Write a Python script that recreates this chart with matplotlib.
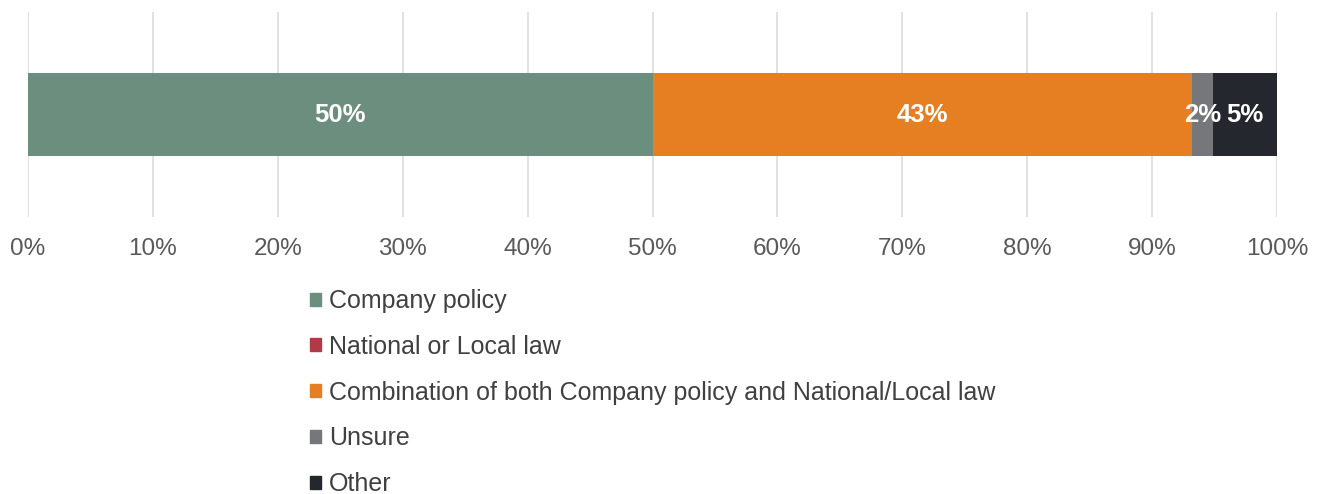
import matplotlib.pyplot as plt
from matplotlib.patches import Patch

plt.rcParams['font.family'] = ['Liberation Sans', 'DejaVu Sans']

# Data
categories = ['Company policy', 'National or Local law',
              'Combination of both Company policy and National/Local law',
              'Unsure', 'Other']
values = [50.0, 0.0, 43.2, 1.7, 5.1]
colors = ['#6b8e7f', '#b03a48', '#e67e22', '#76777b', '#25272f']
tick_vals = list(range(0, 101, 10))

fig = plt.figure(figsize=(13.25, 4.94), dpi=100)
ax = fig.add_axes([28 / 1325, 1 - 217 / 494, 1249 / 1325, 205 / 494])

left = 0
for cat, val, col in zip(categories, values, colors):
    ax.barh(0, val, left=left, height=0.405, color=col, label=cat)
    if val > 0:
        ax.text(left + val / 2, 0, f'{round(val)}%', ha='center', va='center',
                color='white', fontsize=18.5, fontweight='bold')
    left += val

ax.set_xlim(0, 100)
ax.set_ylim(-0.5, 0.5)
ax.set_yticks([])
ax.set_xticks(tick_vals)
ax.set_xticklabels([f'{t}%' for t in tick_vals])
ax.tick_params(axis='x', length=0, pad=15, labelsize=17.5, labelcolor='#595959')
ax.grid(axis='x', color='#dcdcdc', linewidth=1.2)
ax.set_axisbelow(True)
for s in ax.spines.values():
    s.set_visible(False)

handles = [Patch(color=c, label=l) for l, c in zip(categories, colors)]
fig.legend(handles=handles, loc='upper left', bbox_to_anchor=(310 / 1325, 1 - 289 / 494),
           frameon=False, fontsize=18, labelcolor='#404040',
           handlelength=0.42, handleheight=0.42, handletextpad=0.35, labelspacing=0.87,
           borderaxespad=0, borderpad=0)

fig.savefig('out.png', dpi=100, facecolor='white')
